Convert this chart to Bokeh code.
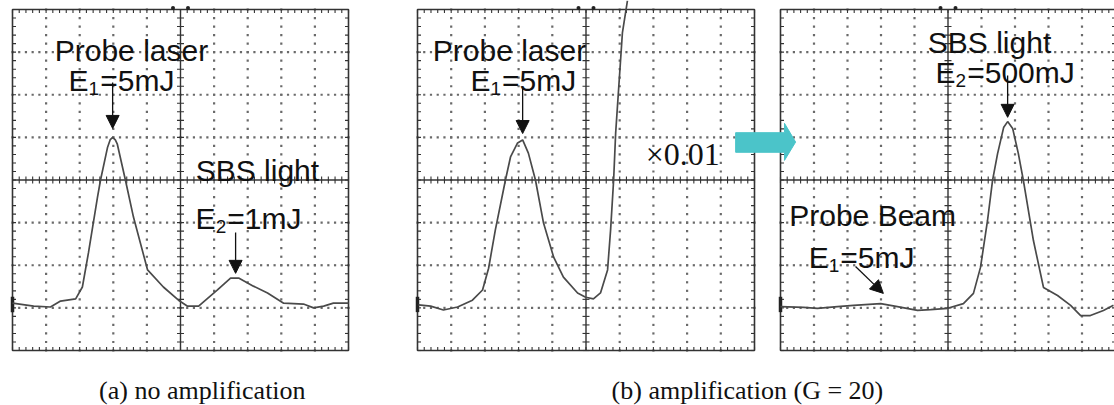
import numpy as np
from bokeh.plotting import figure
from bokeh.models import Range1d, Arrow, NormalHead
from bokeh.core.properties import value
from bokeh.embed import file_html
from bokeh.resources import INLINE

# ---- Data: oscilloscope traces in screen divisions (x: 0..10, y: -4..4) ----
a_t = [0, 0.63, 1.13, 1.43, 1.88, 2.08, 2.26, 2.53, 2.62, 2.83, 2.91, 2.98, 3.06, 3.12, 3.36,
       3.60, 4.02, 4.49, 4.94, 5.21, 5.54, 6.10, 6.49, 6.73, 7.17, 7.59, 8.07, 8.66, 8.96,
       9.26, 9.55, 10.0]
a_v = [-2.89, -2.96, -2.98, -2.84, -2.79, -2.51, -1.71, -0.40, 0.0, 0.77, 0.95, 1.0, 0.94, 0.84, 0.0,
       -0.87, -2.11, -2.51, -2.82, -2.96, -2.96, -2.58, -2.30, -2.30, -2.49, -2.65, -2.89, -2.91, -3.00,
       -2.96, -2.89, -2.89]

b1_t = [0.03, 0.39, 0.77, 1.19, 1.63, 1.93, 2.11, 2.31, 2.61, 2.76, 2.97, 3.12, 3.29, 3.50, 3.74,
        4.04, 4.33, 4.75, 4.99, 5.22, 5.43, 5.64, 5.73, 5.82, 5.88, 6.08, 6.23]
b1_v = [-2.93, -2.96, -3.05, -2.98, -2.82, -2.58, -2.07, -1.17, 0.0, 0.54, 0.87, 0.94, 0.63, 0.0, -1.01,
        -1.81, -2.28, -2.65, -2.75, -2.79, -2.65, -2.11, -1.17, 0.0, 1.10, 3.45, 4.21]

b2_t = [0, 0.69, 1.10, 1.70, 2.18, 2.99, 3.49, 4.09, 4.48, 4.99, 5.46, 5.76, 5.97, 6.18, 6.33,
        6.48, 6.66, 6.78, 6.93, 7.10, 7.25, 7.55, 7.85, 8.27, 8.66, 8.96, 9.25, 9.64, 9.94]
b2_v = [-2.97, -2.99, -3.01, -2.97, -2.94, -2.90, -2.97, -3.06, -3.04, -3.01, -2.90, -2.66, -2.05, -0.95, -0.01,
        0.62, 1.23, 1.37, 1.21, 0.62, -0.01, -1.42, -2.52, -2.71, -2.94, -3.18, -3.18, -3.06, -2.94]

captions = ["(a) no amplification", "(b) amplification (G = 20)"]

# ---- Layout geometry (pixels) ----
W, H = 1114, 405
TOP, BOT = 9, 350
DY = (BOT - TOP) / 8.0
panels = {"a": (12, 33.6), "b1": (417, 33.7), "b2": (780, 33.5)}

p = figure(width=W, height=H, output_backend="svg", toolbar_location=None,
           x_axis_type=None, y_axis_type=None, min_border=0,
           x_range=Range1d(0, W),
           y_range=Range1d(-4 - (H - BOT) / DY, 4 + TOP / DY))
p.outline_line_color = None
p.background_fill_color = "white"
p.border_fill_color = "white"
p.extra_x_ranges = {n: Range1d(-L / w, (W - L) / w) for n, (L, w) in panels.items()}

SANS = "Liberation Sans"
SERIF = "Liberation Serif"


def draw_scope(rn, t, v):
    L, w = panels[rn]
    kw = dict(x_range_name=rn)
    fx = np.round(np.arange(0, 10.001, 0.2), 3)
    fy = np.round(np.arange(-4, 4.001, 0.2), 3)
    # dotted graticule
    dx, dy = [], []
    for gy in [-3, -2, -1, 1, 2, 3]:
        dx += list(fx); dy += [gy] * len(fx)
    for gx in [1, 2, 3, 4, 6, 7, 8, 9]:
        dx += [gx] * len(fy); dy += list(fy)
    p.scatter(dx, dy, marker="square", size=2.2, fill_color="#6a6a6a", line_color=None, **kw)
    # border and centre lines
    p.quad(left=[0], right=[10], bottom=[-4], top=[4], fill_color=None,
           line_color="#333333", line_width=1.6, **kw)
    p.segment(x0=[5, 0], y0=[-4, 0], x1=[5, 10], y1=[4, 0], line_color="#333333", line_width=1.4, **kw)
    # ticks
    ty = 3.5 / DY
    tx = 3.5 / w
    x0, y0, x1, y1 = [], [], [], []
    for x in fx:
        x0 += [x, x, x]; x1 += [x, x, x]
        y0 += [-ty, 4, -4]; y1 += [ty, 4 - ty, -4 + ty]
    for y in fy:
        y0 += [y, y, y]; y1 += [y, y, y]
        x0 += [5 - tx, 0, 10]; x1 += [5 + tx, tx, 10 - tx]
    p.segment(x0=x0, y0=y0, x1=x1, y1=y1, line_color="#333333", line_width=1.1, **kw)
    # trigger marks on top edge
    p.scatter([5 - 7.5 / w, 5 + 7.5 / w], [4 + 1.5 / DY] * 2, marker="circle", size=4,
              fill_color="#222222", line_color=None, **kw)
    # ground marker
    p.segment(x0=[0], y0=[-2.74], x1=[0], y1=[-3.1], line_color="#222222", line_width=3.5, **kw)
    # trace
    p.line(t, v, line_color="#4a4a4a", line_width=1.7, **kw)


def txt(rn, x, y, s, size=30, align="left", font=SANS):
    p.text(x=[x], y=[y], text=[s], x_range_name=rn, text_font=value(font),
           text_font_size=f"{size}px", text_align=align, text_baseline="alphabetic",
           text_color="#111111")


def sublabel(rn, x, y, main, sub, rest, size=30):
    w = panels[rn][1]
    ssz = round(size * 0.63)
    txt(rn, x, y, main, size)
    xs = x + 0.667 * size / w
    txt(rn, xs, y - 8 / DY, sub, ssz)
    txt(rn, xs + (0.556 * ssz + 1) / w, y, rest, size)


def arrow(rn, xs, ys, xe, ye):
    p.add_layout(Arrow(end=NormalHead(size=13, fill_color="#111111", line_color="#111111"),
                       x_start=xs, y_start=ys, x_end=xe, y_end=ye, line_width=1.3,
                       line_color="#111111", x_range_name=rn))


draw_scope("a", a_t, a_v)
draw_scope("b1", b1_t, b1_v)
draw_scope("b2", b2_t, b2_v)

# panel (a) annotations
txt("a", 3.54, 3.04, "Probe laser", align="center")
sublabel("a", 1.67, 2.33, "E", "1", "=5mJ")
arrow("a", 2.98, 2.29, 2.98, 1.21)
txt("a", 7.29, 0.22, "SBS light", align="center")
sublabel("a", 5.45, -0.90, "E", "2", "=1mJ")
arrow("a", 6.64, -1.23, 6.64, -2.19)

# panel (b) left annotations
txt("b1", 2.73, 3.04, "Probe laser", align="center")
sublabel("b1", 1.57, 2.33, "E", "1", "=5mJ")
arrow("b1", 3.12, 2.15, 3.12, 1.09)
txt("b1", 6.77, 0.62, "\u00d70.01", size=32, font=SERIF)

# cyan transfer arrow
p.patch(x=[9.44, 10.89, 10.89, 11.22, 10.89, 10.89, 9.44],
        y=[1.11, 1.11, 1.33, 0.89, 0.46, 0.65, 0.65],
        fill_color="#4BC4C9", line_color="#4BC4C9", x_range_name="b1")

# panel (b) right annotations
txt("b2", 6.24, 3.23, "SBS light", align="center")
sublabel("b2", 4.63, 2.52, "E", "2", "=500mJ")
arrow("b2", 6.78, 2.45, 6.78, 1.47)
txt("b2", 2.75, -0.83, "Probe Beam", align="center")
sublabel("b2", 0.84, -1.82, "E", "1", "=5mJ")
arrow("b2", 2.24, -2.03, 3.07, -2.66)

# captions
txt("a", 5.65, -4.93, captions[0], size=26, align="center", font=SERIF)
txt("b1", 9.79, -4.93, captions[1], size=26, align="center", font=SERIF)

open("out.html", "w").write(file_html(p, INLINE))
